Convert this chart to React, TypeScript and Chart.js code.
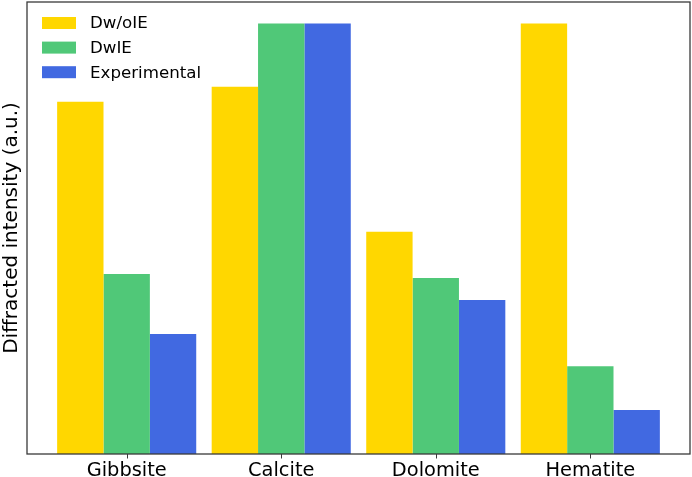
import React, { useEffect, useRef } from "react";
import { Chart, registerables } from "chart.js";

Chart.register(...registerables);

const categories = ["Gibbsite", "Calcite", "Dolomite", "Hematite"];
const seriesNames = ["Dw/oIE", "DwIE", "Experimental"];
const dwoIE = [0.818, 0.853, 0.516, 1.0];
const dwIE = [0.418, 1.0, 0.409, 0.204];
const experimental = [0.279, 1.0, 0.358, 0.102];
const colors = ["#FFD700", "#50C878", "#4169E1"];

const FONT = "DejaVu Sans, sans-serif";
const FS = 16.67;

const frameAndLegend = {
  id: "frameAndLegend",
  afterDraw(chart: any) {
    const { ctx, chartArea } = chart;
    const xs = chart.scales.x;
    ctx.save();
    ctx.strokeStyle = "#3a3a3a";
    ctx.lineWidth = 1.3;
    ctx.strokeRect(chartArea.left, chartArea.top, chartArea.right - chartArea.left, chartArea.bottom - chartArea.top);
    ctx.lineWidth = 1;
    categories.forEach((_, i) => {
      const px = Math.round(xs.getPixelForValue(i)) + 0.5;
      ctx.beginPath();
      ctx.moveTo(px, chartArea.bottom);
      ctx.lineTo(px, chartArea.bottom + 4.5);
      ctx.stroke();
    });
    ctx.font = `${FS}px ${FONT}`;
    ctx.textBaseline = "middle";
    ctx.textAlign = "left";
    chart.data.datasets.forEach((ds: any, i: number) => {
      const y = chartArea.top + 21 + i * 24.6;
      ctx.fillStyle = ds.backgroundColor;
      ctx.fillRect(chartArea.left + 15, y - 6, 34, 12);
      ctx.fillStyle = "#000000";
      ctx.fillText(ds.label, chartArea.left + 63, y + 1);
    });
    ctx.restore();
  },
};

export default function App() {
  const ref = useRef<HTMLCanvasElement | null>(null);
  useEffect(() => {
    if (!ref.current) return;
    const series = [dwoIE, dwIE, experimental];
    const chart = new Chart(ref.current, {
      type: "bar",
      data: {
        datasets: series.map((vals, i) => ({
          label: seriesNames[i],
          data: vals.map((v, j) => ({ x: j, y: v })),
          backgroundColor: colors[i],
          borderWidth: 0,
          categoryPercentage: 0.9,
          barPercentage: 1.0,
        })),
      },
      options: {
        animation: false,
        responsive: false,
        maintainAspectRatio: false,
        layout: { padding: { top: 2, right: 2, left: 0, bottom: 0 } },
        plugins: { legend: { display: false }, tooltip: { enabled: false } },
        scales: {
          x: {
            type: "linear",
            offset: false,
            min: -0.645,
            max: 3.645,
            afterBuildTicks: (scale: any) => {
              scale.ticks = categories.map((_, i) => ({ value: i }));
            },
            afterFit: (scale: any) => {
              scale.height = 23;
            },
            grid: {
              display: true,
              offset: false,
              drawOnChartArea: false,
              drawTicks: true,
              tickLength: 5,
              color: "rgba(0,0,0,0)",
            },
            border: { display: false },
            ticks: {
              autoSkip: false,
              maxRotation: 0,
              padding: 0,
              color: "#000000",
              font: { family: FONT, size: 19.4 },
              callback: (v: any) => categories[Math.round(Number(v))] ?? "",
            },
          },
          y: {
            min: 0,
            max: 1.05,
            afterFit: (scale: any) => {
              scale.width = 27;
            },
            grid: { display: false },
            border: { display: false },
            ticks: { display: false },
            title: {
              display: true,
              text: "Diffracted intensity (a.u.)",
              color: "#000000",
              font: { family: FONT, size: 20 },
              padding: { top: 0, bottom: 0 },
            },
          },
        },
      },
      plugins: [frameAndLegend],
    } as any);
    return () => chart.destroy();
  }, []);
  return (
    <div style={{ position: "fixed", left: 0, top: 0, width: 692, height: 477, background: "#fff" }}>
      <canvas ref={ref} width={692} height={477} style={{ display: "block", width: 692, height: 477 }} />
    </div>
  );
}
